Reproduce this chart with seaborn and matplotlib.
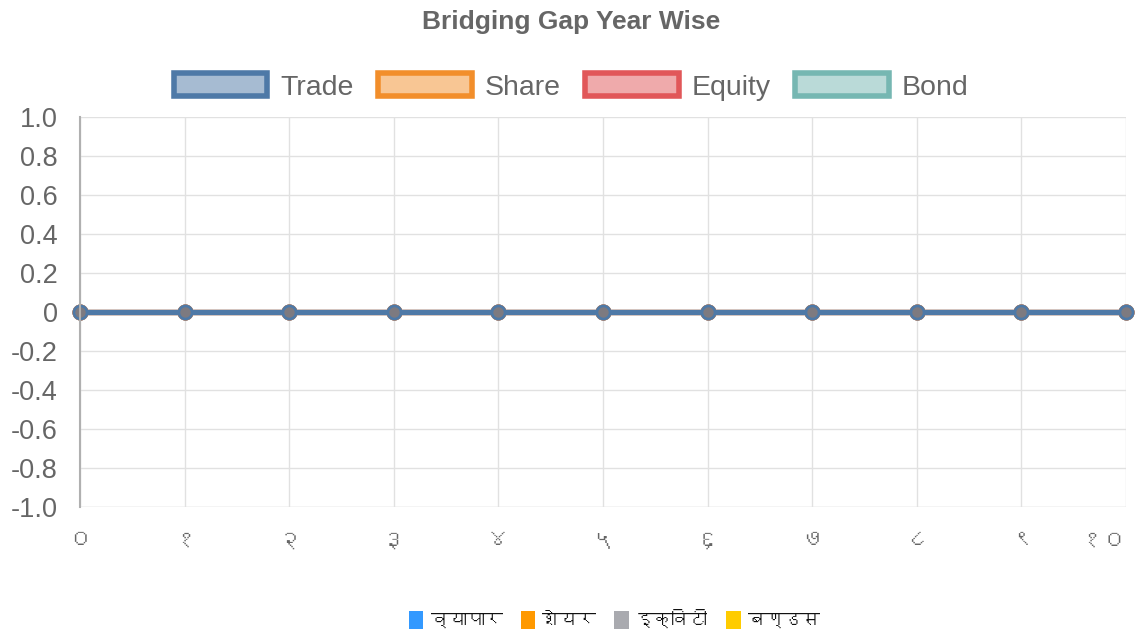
import matplotlib
matplotlib.use("Agg")
import matplotlib.pyplot as plt
import matplotlib.font_manager as fm
from matplotlib.patches import Patch
import pandas as pd
import seaborn as sns

# chart data
years = ["०", "१", "२", "३", "४", "५", "६", "७", "८", "९", "१०"]
trade = [0, 0, 0, 0, 0, 0, 0, 0, 0, 0, 0]
share = [0, 0, 0, 0, 0, 0, 0, 0, 0, 0, 0]
equity = [0, 0, 0, 0, 0, 0, 0, 0, 0, 0, 0]
bond = [0, 0, 0, 0, 0, 0, 0, 0, 0, 0, 0]
series_names = ["Trade", "Share", "Equity", "Bond"]
series_colors = ["#4e79a7", "#f28e2b", "#e15759", "#76b7b2"]
nepali_labels = ["व्यापार", "शेयर", "इक्विटी", "बण्डस"]
nepali_colors = ["#3399ff", "#ff9900", "#a9aaaf", "#ffcc00"]


def find_devanagari_font():
    # look for an installed font that has devanagari glyphs
    try:
        from fontTools.ttLib import TTFont
    except ImportError:
        return None
    for f in fm.fontManager.ttflist:
        try:
            tt = TTFont(f.fname, fontNumber=0, lazy=True)
            cmap = tt.getBestCmap()
            if cmap and 0x0935 in cmap and 0x0966 in cmap:
                return f.name
        except Exception:
            continue
    return None


sns.set_theme(style="white")
deva = find_devanagari_font()
fams = ["Liberation Sans", "DejaVu Sans"]
if deva:
    fams = ["Liberation Sans", deva, "DejaVu Sans"]
plt.rcParams["font.family"] = fams

rows = []
for name, vals in zip(series_names, [trade, share, equity, bond]):
    for i, v in enumerate(vals):
        rows.append({"series": name, "x": i, "value": v})
df = pd.DataFrame(rows)

fig = plt.figure(figsize=(11.42, 6.3), dpi=100)
ax = fig.add_axes([0.070, 0.195, 0.916, 0.619])

# draw in reverse so Trade ends up on top
for name, col in reversed(list(zip(series_names, series_colors))):
    sub = df[df["series"] == name]
    sns.lineplot(data=sub, x="x", y="value", ax=ax, color=col, linewidth=3.8,
                 marker="o", markersize=9.5, markerfacecolor="#7d7a80",
                 markeredgecolor=col, markeredgewidth=2, clip_on=False,
                 legend=False)

ax.set_xlim(0, len(years) - 1)
ax.set_ylim(-1.0, 1.0)
ax.set_xticks(range(len(years)))
ax.set_xticklabels(years)
yt = [1.0, 0.8, 0.6, 0.4, 0.2, 0, -0.2, -0.4, -0.6, -0.8, -1.0]
ax.set_yticks(yt)
ax.set_yticklabels(["0" if t == 0 else f"{t:.1f}" for t in yt])
ax.set_xlabel("")
ax.set_ylabel("")
ax.grid(True, color="#e1e1e1", linewidth=1)
ax.set_axisbelow(True)
for s in ["top", "right", "bottom"]:
    ax.spines[s].set_visible(False)
ax.spines["left"].set_color("#b0b0b0")
ax.spines["left"].set_linewidth(1.5)
ax.tick_params(axis="y", length=15, width=1, color="#e1e1e1", labelsize=19.5,
               labelcolor="#666666", pad=1)
ax.tick_params(axis="x", length=13, width=1, color="#e1e1e1", labelsize=17,
               labelcolor="#666666", pad=3)
# keep the last label inside the figure
ax.get_xticklabels()[-1].set_horizontalalignment("right")
ax.axhline(-1.0, color="#e1e1e1", linewidth=1)

fig.text(0.5, 0.965, "Bridging Gap Year Wise", ha="center", va="center",
         fontsize=19, fontweight="bold", color="#666666")

handles = []
for c in series_colors:
    handles.append(Patch(facecolor=matplotlib.colors.to_rgba(c, 0.5),
                         edgecolor=c, linewidth=4))
leg = fig.legend(handles, series_names, loc="center", bbox_to_anchor=(0.5, 0.862),
                 ncol=4, frameon=False, fontsize=20.5, handlelength=3.3,
                 handleheight=0.85, handletextpad=0.45, columnspacing=0.85,
                 labelcolor="#666666")

handles2 = [Patch(facecolor=c, edgecolor="none") for c in nepali_colors]
fig.legend(handles2, nepali_labels, loc="center", bbox_to_anchor=(0.538, 0.015),
           ncol=4, frameon=False, fontsize=13, handlelength=0.8,
           handleheight=1.1, handletextpad=0.4, columnspacing=1.0,
           labelcolor="#111111")

fig.savefig("out.png", dpi=100)
